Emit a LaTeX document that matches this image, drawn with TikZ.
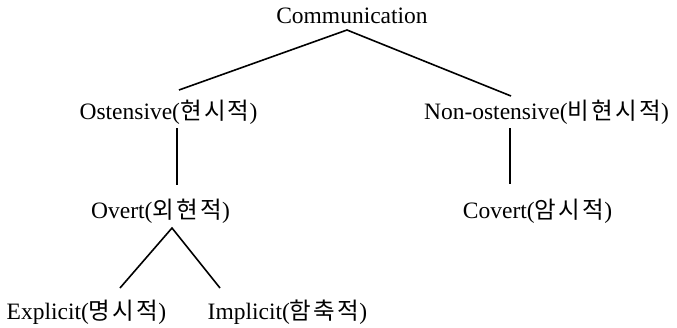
\documentclass[tikz,border=0pt]{standalone}
\usepackage{fontspec}
\setmainfont{Liberation Serif}
\newfontfamily\kr[Scale=1.0,LetterSpace=10]{Noto Sans CJK KR}
\begin{document}
\begin{tikzpicture}[x=1pt,y=-1pt,
  lbl/.style={inner sep=0pt,anchor=base,font=\fontsize{23.5}{28}\selectfont},
  edge/.style={line width=1.6pt,black}]
\useasboundingbox (0,0) rectangle (677,327);
\node[lbl] (comm) at (352,23) {Communication};
\node[lbl] (ost) at (168.5,119) {Ostensive({\kr 현시적})};
\node[lbl] (non) at (546.5,119) {Non-ostensive({\kr 비현시적})};
\node[lbl] (ovt) at (160.5,218) {Overt({\kr 외현적})};
\node[lbl] (cov) at (537.5,218) {Covert({\kr 암시적})};
\node[lbl] (exp) at (86.5,319) {Explicit({\kr 명시적})};
\node[lbl] (imp) at (287.5,319) {Implicit({\kr 함축적})};
\coordinate (commB) at (347,30);
\coordinate (ostT) at (179,90);
\coordinate (nonT) at (511,96);
\coordinate (ostB) at (177,128);
\coordinate (ovtT) at (177,185);
\coordinate (nonB) at (510,128);
\coordinate (covT) at (510,184);
\coordinate (ovtB) at (172,228);
\coordinate (expT) at (120,288);
\coordinate (impT) at (220,288);
\draw[edge] (ostT) -- (commB) -- (nonT);
\draw[edge] (ostB) -- (ovtT);
\draw[edge] (nonB) -- (covT);
\draw[edge] (expT) -- (ovtB) -- (impT);
\end{tikzpicture}
\end{document}
